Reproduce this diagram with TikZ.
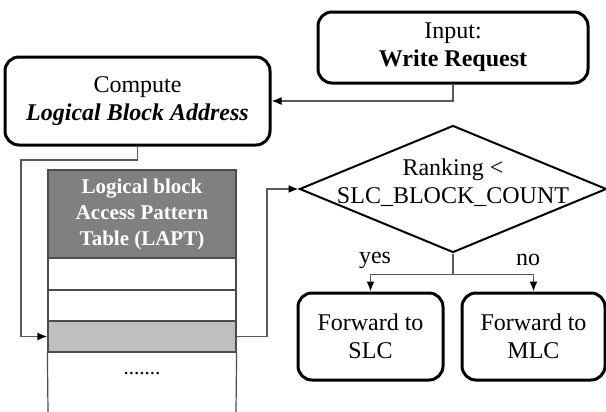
\documentclass[tikz,border=0pt]{standalone}
\usepackage{fontspec}
\setmainfont{Liberation Serif}
\usetikzlibrary{shapes.geometric,arrows.meta}

\tikzset{
  box/.style={draw, line width=1.5pt, rounded corners=7pt, align=center,
    inner sep=0pt, font=\fontsize{12}{14}\selectfont},
  decision/.style={draw, diamond, line width=1pt, inner sep=0pt,
    minimum width=153.5pt, minimum height=63.5pt},
  conn/.style={draw=black!65, line width=0.8pt,
    -{Latex[length=5pt,width=4pt,color=black]}},
  cell/.style={draw=black!70, line width=0.6pt, inner sep=0pt,
    minimum width=94pt},
  lbl/.style={font=\fontsize{12}{14}\selectfont},
}

\begin{document}
\begin{tikzpicture}[x=0.5pt,y=-0.5pt]
  \useasboundingbox (0,0) rectangle (606,412);

  % flow boxes
  \node[box, minimum width=135pt, minimum height=35.5pt] (input) at (453,47.5)
    {Input:\\ \textbf{Write Request}};
  \node[box, minimum width=132.5pt, minimum height=44pt] (compute) at (137.5,101)
    {Compute\\ \textbf{\textit{Logical Block Address}}};
  \node[decision] (rank) at (453,189) {};
  \node[lbl, align=center] (ranktxt) at (453,183) {Ranking <\\ SLC\_BLOCK\_COUNT};
  \node[box, minimum width=72.5pt, minimum height=43.5pt] (slc) at (370.5,336.5)
    {Forward to\\ SLC};
  \node[box, minimum width=71.5pt, minimum height=43.5pt] (mlc) at (533.5,336.5)
    {Forward to\\ MLC};

  % table
  \node[cell, fill=black!50, minimum height=44pt, text=white, align=center,
    font=\fontsize{10.5}{13}\selectfont\bfseries] (hdr) at (142,214)
    {Logical block\\ Access Pattern\\ Table (LAPT)};
  \node[cell, minimum height=16pt] (row1) at (142,274) {};
  \node[cell, minimum height=15.5pt] (row2) at (142,305.5) {};
  \node[cell, fill=black!25, minimum height=15.5pt] (rowsel) at (142,336.5) {};
  \draw[black!70, line width=0.6pt] (rowsel.south west) -- (48,412);
  \draw[black!70, line width=0.6pt] (rowsel.south east) -- (236,412);
  \node[font=\fontsize{10.5}{13}\selectfont] (dots) at (142,374) {.......};

  % connectors
  \coordinate (bend) at (21,160);
  \coordinate (up) at (267,189);
  \draw[conn] (input.south) |- (compute.east);
  \draw[conn] (compute.south) |- (bend) |- (rowsel.west);
  \draw[conn] (rowsel.east) -| (up) -- (rank.west);
  \draw[conn] (rank.south) -- ++(0,21) -| (slc.north);
  \draw[conn] (rank.south) -- ++(0,21) -| (mlc.north);
  \node[lbl] (yes) at (375,260) {yes};
  \node[lbl] (no) at (528,260) {no};
\end{tikzpicture}
\end{document}
